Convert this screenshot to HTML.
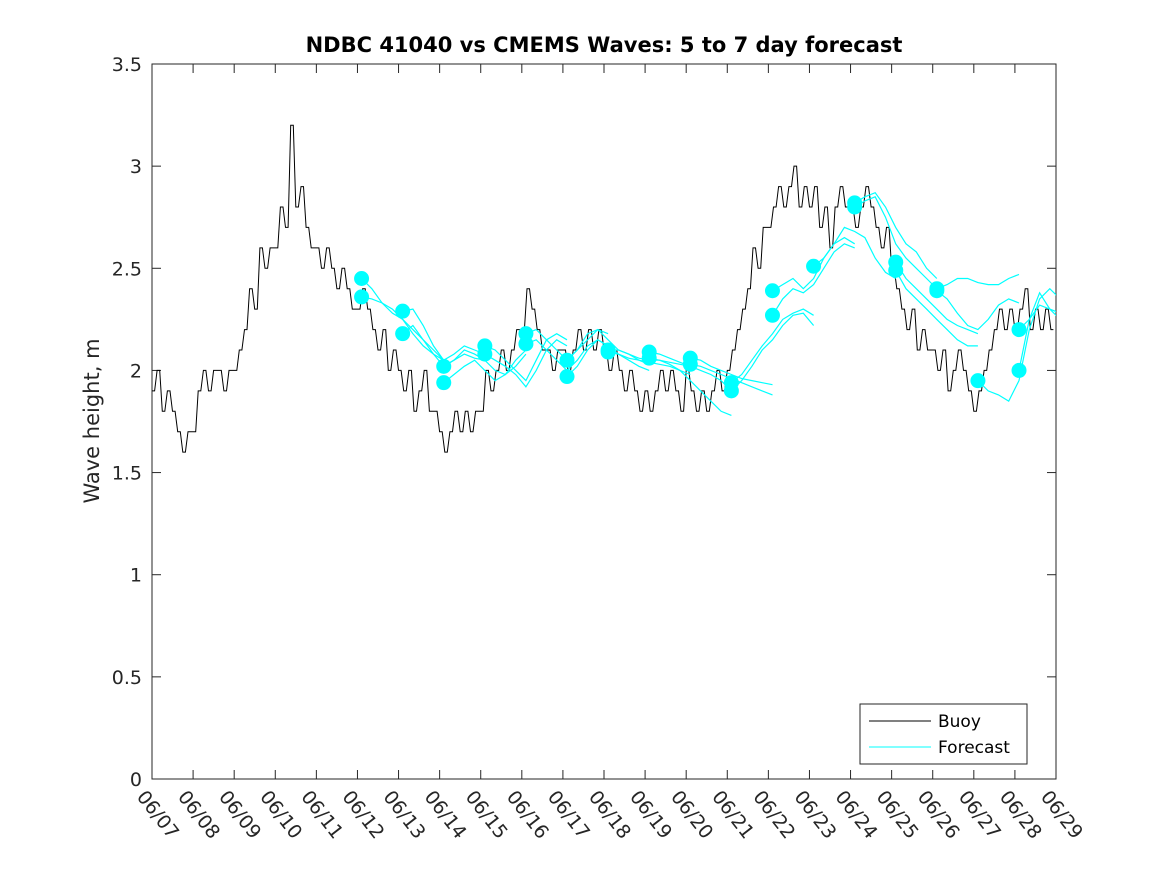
<!DOCTYPE html>
<html><head><meta charset="utf-8"><style>
body{margin:0;background:#fff;}
svg text{font-family:"DejaVu Sans","Liberation Sans",sans-serif;}
</style></head><body>
<svg id="chart" width="1167" height="875" xmlns="http://www.w3.org/2000/svg">
<defs><clipPath id="plotclip"><rect x="152" y="64" width="904" height="715"/></clipPath></defs>
<rect x="0" y="0" width="1167" height="875" fill="#fff"/>
<rect x="152" y="64" width="904" height="715" fill="#fff" stroke="#262626" stroke-width="1"/>
<text x="604" y="52" text-anchor="middle" font-size="21" font-weight="bold" fill="#000">NDBC 41040 vs CMEMS Waves: 5 to 7 day forecast</text>
<text transform="translate(99,421) rotate(-90)" text-anchor="middle" font-size="21" fill="#262626">Wave height, m</text>
<g id="axes"></g>
<g id="series" clip-path="url(#plotclip)"></g>
<g>
<rect x="860" y="704" width="167" height="60" fill="#fff" stroke="#262626" stroke-width="1"/>
<line x1="869" y1="721" x2="931" y2="721" stroke="#000" stroke-width="1"/>
<text x="938" y="727" font-size="17" fill="#000">Buoy</text>
<line x1="869" y1="747" x2="931" y2="747" stroke="#00ffff" stroke-width="1"/>
<text x="938" y="753" font-size="17" fill="#000">Forecast</text>
</g>
</svg>
<script>
const xTickLabels=["06/07","06/08","06/09","06/10","06/11","06/12","06/13","06/14","06/15","06/16","06/17","06/18","06/19","06/20","06/21","06/22","06/23","06/24","06/25","06/26","06/27","06/28","06/29"];
const yTickLabels=["0","0.5","1","1.5","2","2.5","3","3.5"];
const yTickValues=[0,0.5,1,1.5,2,2.5,3,3.5];
const buoyStartDay=7;
const buoyStepHours=3;
const buoyValues=[
1.9,2.0,1.8,1.9,1.8,1.7,1.6,1.7,
1.7,1.9,2.0,1.9,2.0,2.0,1.9,2.0,
2.0,2.1,2.2,2.4,2.3,2.6,2.5,2.6,
2.6,2.8,2.7,3.2,2.8,2.9,2.7,2.6,
2.6,2.5,2.6,2.5,2.4,2.5,2.4,2.3,
2.3,2.4,2.3,2.2,2.1,2.2,2.0,2.1,
2.0,1.9,2.0,1.8,1.9,2.0,1.8,1.8,
1.7,1.6,1.7,1.8,1.7,1.8,1.7,1.8,
1.8,2.0,1.9,2.0,2.1,2.0,2.1,2.2,
2.2,2.4,2.3,2.2,2.1,2.1,2.0,2.1,
2.1,2.0,2.1,2.2,2.1,2.2,2.1,2.2,
2.1,2.0,2.1,2.0,1.9,2.0,1.9,1.8,
1.9,1.8,1.9,2.0,1.9,2.0,1.9,1.8,
2.0,1.9,1.8,1.9,1.8,1.9,2.0,1.9,
2.0,2.1,2.2,2.3,2.4,2.6,2.5,2.7,
2.7,2.8,2.9,2.8,2.9,3.0,2.8,2.9,
2.8,2.9,2.7,2.8,2.6,2.8,2.9,2.8,
2.8,2.7,2.8,2.9,2.8,2.7,2.6,2.7,
2.5,2.4,2.3,2.2,2.3,2.1,2.2,2.1,
2.1,2.0,2.1,1.9,2.0,2.1,2.0,1.9,
1.8,1.9,2.0,2.1,2.2,2.3,2.2,2.3,
2.2,2.3,2.4,2.2,2.3,2.2,2.3,2.2];
const runStarts=[12.1,12.1,13.1,13.1,14.1,14.1,15.1,15.1,16.1,16.1,17.1,17.1,18.1,18.1,19.1,19.1,20.1,20.1,21.1,21.1,22.1,22.1,23.1,24.1,24.1,25.1,25.1,26.1,26.1,27.1,28.1,28.1];
const runStepHours=6;
const runValues=[
[2.45,2.40,2.33,2.28,2.25,2.20,2.15,2.10,2.05],
[2.36,2.35,2.33,2.30,2.25,2.18,2.12,2.08,2.05],
[2.29,2.30,2.22,2.12,2.05,2.08,2.12,2.10,2.08],
[2.18,2.22,2.15,2.08,2.02,2.05,2.08,2.06,2.05],
[2.02,2.05,2.10,2.08,2.05,2.00,1.98,2.05,2.10],
[1.94,1.98,2.02,2.05,2.00,1.95,1.98,2.02,2.08],
[2.12,2.10,2.05,2.00,1.95,2.05,2.15,2.18,2.15],
[2.08,2.05,2.02,1.98,1.92,2.00,2.10,2.15,2.12],
[2.18,2.20,2.15,2.10,2.05,2.10,2.15,2.20,2.18],
[2.13,2.15,2.10,2.05,2.00,2.05,2.12,2.15,2.12],
[2.05,2.10,2.18,2.20,2.15,2.10,2.08,2.05,2.03],
[1.97,2.02,2.10,2.15,2.12,2.08,2.05,2.02,2.00],
[2.10,2.10,2.08,2.06,2.05,2.05,2.04,2.03,2.02],
[2.09,2.08,2.06,2.05,2.04,2.03,2.02,2.00,1.98],
[2.09,2.08,2.06,2.04,2.02,2.00,1.98,1.95,1.90],
[2.06,2.05,2.03,2.00,1.95,1.90,1.85,1.80,1.78],
[2.06,2.05,2.02,2.00,1.98,1.96,1.95,1.94,1.93],
[2.03,2.02,2.00,1.98,1.96,1.94,1.92,1.90,1.88],
[1.94,1.98,2.05,2.12,2.18,2.25,2.28,2.30,2.27],
[1.90,1.95,2.02,2.10,2.15,2.22,2.27,2.28,2.22],
[2.39,2.42,2.45,2.40,2.45,2.55,2.62,2.65,2.62],
[2.27,2.35,2.40,2.38,2.42,2.50,2.58,2.62,2.60],
[2.51,2.55,2.62,2.70,2.68,2.65,2.55,2.48,2.45],
[2.82,2.85,2.87,2.80,2.70,2.62,2.58,2.50,2.45],
[2.80,2.83,2.85,2.75,2.62,2.55,2.50,2.45,2.40],
[2.53,2.45,2.40,2.35,2.30,2.25,2.22,2.20,2.18],
[2.49,2.40,2.35,2.30,2.25,2.20,2.15,2.12,2.12],
[2.40,2.42,2.45,2.45,2.43,2.42,2.42,2.45,2.47],
[2.39,2.35,2.28,2.22,2.20,2.25,2.32,2.35,2.33],
[1.95,1.90,1.88,1.85,1.95,2.20,2.35,2.40,2.35],
[2.20,2.25,2.32,2.30,2.28,2.28],
[2.00,2.25,2.38,2.30,2.25,2.23]];

const NS="http://www.w3.org/2000/svg";
const X0=152,X1=1056,Y0=779,Y1=64,DAY0=7,DAY1=29,YMAX=3.5;
function xScale(d){return X0+(d-DAY0)/(DAY1-DAY0)*(X1-X0);}
function yScale(v){return Y0-v/YMAX*(Y0-Y1);}
function mk(tag,attrs,parent){const e=document.createElementNS(NS,tag);for(const k in attrs)e.setAttribute(k,attrs[k]);parent.appendChild(e);return e;}
const axes=document.getElementById('axes');
const series=document.getElementById('series');

xTickLabels.forEach((lab,i)=>{
  const x=xScale(DAY0+i);
  const t1=mk('line',{x1:x,y1:Y0,x2:x,y2:Y0-9,stroke:'#262626'},axes);
  
  
  const t2=mk('line',{x1:x,y1:Y1,x2:x,y2:Y1+9,stroke:'#262626'},axes);
  
  
  const tx=mk('text',{x:0,y:0,'font-size':'19',fill:'#262626',transform:`translate(${x-16},${Y0+18}) rotate(52)`},axes);
  tx.textContent=lab;
  
  
});
yTickValues.forEach((v,i)=>{
  const y=yScale(v);
  const t1=mk('line',{x1:X0,y1:y,x2:X0+9,y2:y,stroke:'#262626'},axes);
  
  
  const t2=mk('line',{x1:X1,y1:y,x2:X1-9,y2:y,stroke:'#262626'},axes);
  
  
  const tx=mk('text',{x:X0-10,y:y+7,'text-anchor':'end','font-size':'19',fill:'#262626'},axes);
  tx.textContent=yTickLabels[i];
  
  
});

// buoy step line
let pts=[];
buoyValues.forEach((v,i)=>{
  const d=buoyStartDay+i*buoyStepHours/24;
  const dn=buoyStartDay+(i+1)*buoyStepHours/24;
  pts.push(xScale(d).toFixed(1)+','+yScale(v).toFixed(1));
  pts.push(xScale((d+dn)/2).toFixed(1)+','+yScale(v).toFixed(1));
});
const buoy=mk('polyline',{points:pts.join(' '),fill:'none',stroke:'#000','stroke-width':'1'},series);



runValues.forEach((vals,r)=>{
  const s=runStarts[r];
  const p=vals.map((v,i)=>xScale(s+i*runStepHours/24).toFixed(1)+','+yScale(v).toFixed(1)).join(' ');
  const ln=mk('polyline',{points:p,fill:'none',stroke:'#00ffff','stroke-width':'1.2'},series);
  
  
});
runValues.forEach((vals,r)=>{
  const c=mk('circle',{cx:xScale(runStarts[r]),cy:yScale(vals[0]),r:7.5,fill:'#00ffff'},series);
  
  
});
</script>
</body></html>
